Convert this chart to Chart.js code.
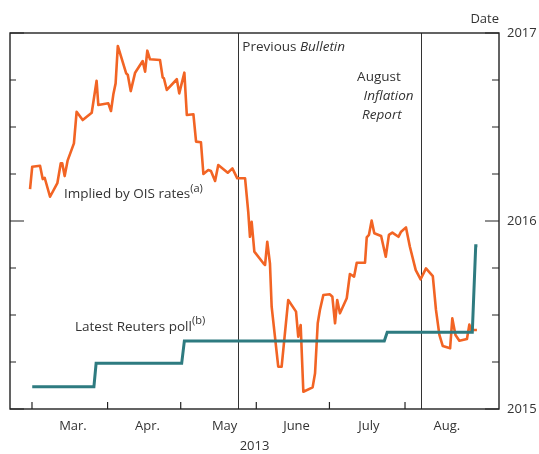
<!DOCTYPE html>
<html><head><meta charset="utf-8">
<script src="https://cdn.jsdelivr.net/npm/chart.js@4.4.0/dist/chart.umd.min.js"></script>
<style>html,body{margin:0;padding:0;background:#fff}canvas{display:block}</style>
</head><body>
<canvas id="c" width="539" height="454"></canvas>
<script>
// x values: days since 1 March 2013; y values: expected date of first Bank Rate rise (decimal year)
const oisDays = [-0.8,0.1,3.3,4.4,5.2,7.4,10.4,11.8,12.4,13.4,
  14.6,17.2,18.3,20.8,24.5,26.5,27.2,31.3,32.4,33.4,
  34.3,35.2,38.6,39.3,40.5,42.3,45.4,46.4,47.3,48.4,
  52.5,53.6,54.1,55.3,59.4,60.4,62.5,63.5,66.2,67.3,
  69.3,70.3,72.3,73.4,75.1,76.4,80.3,82.2,84.2,87.4,
  88.7,89.4,90.1,91.2,94.9,95.6,96.5,97.6,98.3,101.0,
  102.4,105.1,108.3,109.2,110.2,111.3,115.1,116.1,117.2,118.1,
  119.5,122.2,123.2,124.3,125.2,126.3,129.1,130.4,132.1,133.2,
  136.6,137.3,138.2,139.3,140.4,143.2,145.1,146.4,147.8,150.3,
  151.4,153.4,155.0,157.4,159.4,161.6,164.4,165.7,167.1,168.5,
  171.5,172.4,173.7,175.3,178.4,179.4,180.1,182.5];
const oisValues = [2016.169,2016.289,2016.294,2016.223,2016.230,2016.129,2016.201,2016.307,2016.307,2016.239,
  2016.321,2016.413,2016.581,2016.537,2016.576,2016.746,2016.617,2016.626,2016.585,2016.676,
  2016.732,2016.931,2016.786,2016.777,2016.691,2016.789,2016.851,2016.794,2016.906,2016.860,
  2016.856,2016.764,2016.759,2016.697,2016.754,2016.679,2016.789,2016.564,2016.568,2016.422,
  2016.419,2016.250,2016.271,2016.266,2016.213,2016.298,2016.257,2016.280,2016.227,2016.227,
  2016.049,2015.916,2015.996,2015.837,2015.775,2015.766,2015.890,2015.775,2015.544,2015.225,
  2015.225,2015.580,2015.518,2015.385,2015.447,2015.092,2015.115,2015.190,2015.456,2015.527,
  2015.606,2015.610,2015.597,2015.456,2015.580,2015.509,2015.589,2015.718,2015.704,2015.778,
  2015.778,2015.913,2015.926,2016.002,2015.935,2015.920,2015.810,2015.926,2015.938,2015.916,
  2015.943,2015.966,2015.863,2015.739,2015.690,2015.748,2015.707,2015.527,2015.394,2015.335,
  2015.323,2015.482,2015.394,2015.363,2015.372,2015.449,2015.420,2015.420];
const pollDays = [0.1,25.4,26.3,61.4,62.5,144.5,145.7,180.6,182.0,182.7];
const pollValues = [2015.119,2015.119,2015.243,2015.243,2015.362,2015.362,2015.408,2015.408,2015.869,2015.869];
const monthLabels = ['Mar.','Apr.','May','June','July','Aug.'];
const monthLabelDays = [16.8,47.4,79.0,108.5,138.2,170.2];
const monthStartDays = [0,31,61,92,122,153];
const yTickValues = [2015,2015.25,2015.5,2015.75,2016,2016.25,2016.5,2016.75,2017];
const eventDays = [84.4,159.4];
const xTitle = '2013';
const yTitle = 'Date';

const FONT = '"Open Sans", "Noto Sans", sans-serif';
const TEXT = '#333333';

function drawRich(ctx, x, y, parts) {
  let cx = x;
  parts.forEach(p => {
    const size = p.sup ? 11 : 13.5;
    ctx.font = (p.it ? 'italic ' : '') + size + 'px ' + FONT;
    ctx.fillText(p.t, cx, y - (p.sup ? 6.5 : 0));
    cx += ctx.measureText(p.t).width;
  });
}

const decor = {
  id: 'decor',
  beforeDatasetsDraw(chart) {
    const {ctx, chartArea: a, scales: {x}} = chart;
    ctx.save();
    ctx.strokeStyle = '#333';
    ctx.lineWidth = 1;
    eventDays.forEach(d => {
      const px = Math.round(x.getPixelForValue(d)) + 0.5;
      ctx.beginPath(); ctx.moveTo(px, a.top); ctx.lineTo(px, a.bottom); ctx.stroke();
    });
    ctx.restore();
  },
  afterDatasetsDraw(chart) {
    const {ctx, chartArea: a, scales: {x, y}} = chart;
    ctx.save();
    ctx.strokeStyle = '#222';
    ctx.lineWidth = 1.4;
    ctx.strokeRect(a.left, a.top, a.right - a.left, a.bottom - a.top);
    ctx.lineWidth = 1.2;
    yTickValues.forEach(v => {
      const py = y.getPixelForValue(v);
      const major = Number.isInteger(v);
      ctx.beginPath();
      ctx.moveTo(a.left, py); ctx.lineTo(a.left + (major ? 14 : 6), py);
      ctx.moveTo(a.right, py); ctx.lineTo(a.right - (major ? 14 : 7), py);
      ctx.stroke();
    });
    monthStartDays.forEach(d => {
      const px = x.getPixelForValue(d);
      ctx.beginPath(); ctx.moveTo(px, a.bottom); ctx.lineTo(px, a.bottom - 7); ctx.stroke();
    });
    ctx.fillStyle = TEXT;
    ctx.textBaseline = 'alphabetic';
    ctx.textAlign = 'right';
    ctx.font = '13px ' + FONT;
    ctx.fillText(yTitle, a.right, 23);
    ctx.textAlign = 'left';
    const e1 = x.getPixelForValue(eventDays[0]);
    drawRich(ctx, e1 + 4.5, a.top + 18, [{t: 'Previous '}, {t: 'Bulletin', it: true}]);
    const e2 = x.getPixelForValue(eventDays[1]);
    drawRich(ctx, e2 - 63.5, a.top + 48, [{t: 'August'}]);
    drawRich(ctx, e2 - 57, a.top + 67, [{t: 'Inflation', it: true}]);
    drawRich(ctx, e2 - 58.5, a.top + 86, [{t: 'Report', it: true}]);
    drawRich(ctx, a.left + 54, 198, [{t: 'Implied by OIS rates'}, {t: '(a)', sup: true}]);
    drawRich(ctx, a.left + 65, 330.5, [{t: 'Latest Reuters poll'}, {t: '(b)', sup: true}]);
    ctx.restore();
  }
};

new Chart(document.getElementById('c'), {
  type: 'line',
  data: {
    datasets: [
      {
        label: 'Latest Reuters poll',
        data: pollDays.map((d, i) => ({x: d, y: pollValues[i]})),
        borderColor: '#2e7b80',
        borderWidth: 3,
        pointRadius: 0,
        tension: 0,
        order: 0
      },
      {
        label: 'Implied by OIS rates',
        data: oisDays.map((d, i) => ({x: d, y: oisValues[i]})),
        borderColor: '#f26424',
        borderWidth: 2.6,
        borderJoinStyle: 'round',
        pointRadius: 0,
        tension: 0,
        order: 1
      }
    ]
  },
  options: {
    responsive: false,
    devicePixelRatio: 1,
    animation: false,
    layout: {padding: {left: 10, top: 33, right: 0, bottom: 0}},
    plugins: {legend: {display: false}, tooltip: {enabled: false}},
    scales: {
      x: {
        type: 'linear',
        position: 'bottom',
        min: -9.02,
        max: 191.55,
        afterBuildTicks: s => { s.ticks = monthLabelDays.map(v => ({value: v})); },
        afterFit: s => { s.height = 45; },
        grid: {display: false, drawTicks: false},
        border: {display: false},
        ticks: {
          autoSkip: false,
          maxRotation: 0,
          padding: 9,
          color: TEXT,
          font: {family: FONT, size: 13},
          callback: (v, i) => monthLabels[i]
        },
        title: {display: true, text: xTitle, color: TEXT, font: {family: FONT, size: 13}, padding: {top: 0, bottom: 0}}
      },
      y: {
        type: 'linear',
        position: 'right',
        min: 2015,
        max: 2017,
        afterBuildTicks: s => { s.ticks = yTickValues.map(v => ({value: v})); },
        afterFit: s => { s.width = 40; },
        grid: {display: false, drawTicks: false},
        border: {display: false},
        ticks: {
          autoSkip: false,
          padding: 8,
          color: TEXT,
          font: {family: FONT, size: 13},
          callback: v => Number.isInteger(v) ? String(v) : ''
        }
      }
    }
  },
  plugins: [decor]
});
</script>
</body></html>
